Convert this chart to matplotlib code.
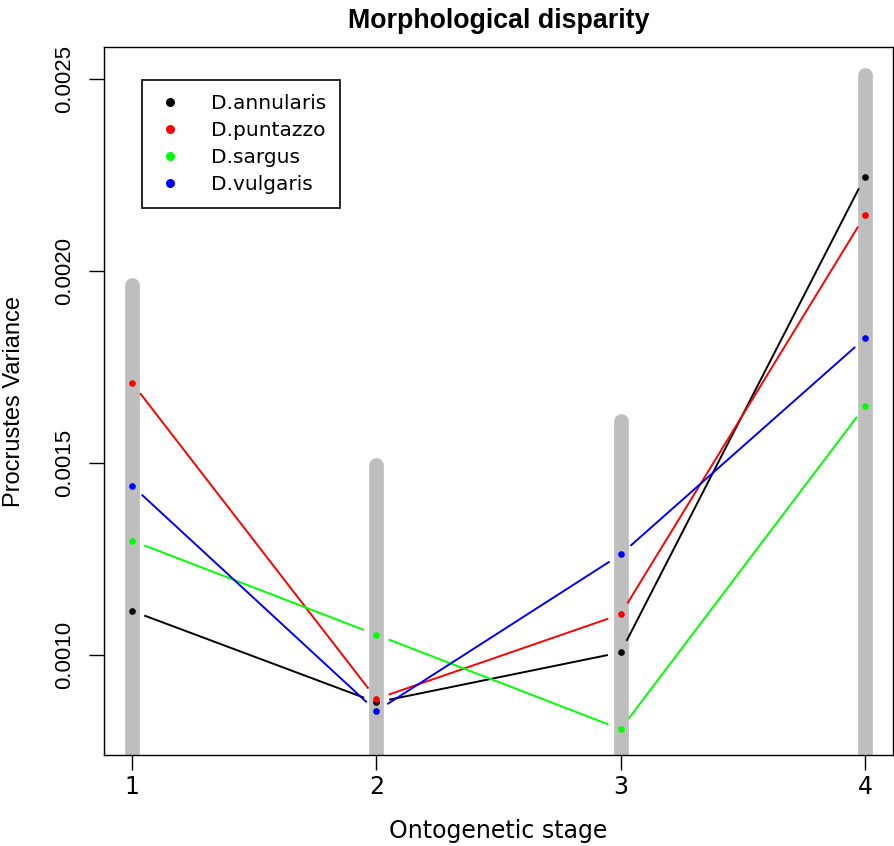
# Morphological disparity per ontogenetic stage
import numpy as np
import matplotlib
matplotlib.use("Agg")
import matplotlib.pyplot as plt
from matplotlib.lines import Line2D

stages = [1, 2, 3, 4]
species = ["D.annularis", "D.puntazzo", "D.sargus", "D.vulgaris"]
colores = ["black", "#FF0000", "#00FF00", "#0000FF"]

annularis = [0.001115, 0.000877, 0.001007, 0.002246]
puntazzo = [0.001709, 0.000886, 0.001106, 0.002145]
sargus = [0.001298, 0.001053, 0.000807, 0.001648]
vulgaris = [0.001441, 0.000854, 0.001262, 0.001825]
valores = [annularis, puntazzo, sargus, vulgaris]

ci_sup = [0.001964, 0.001495, 0.00161, 0.002511]
ci_inf = [0.0004, 0.0004, 0.0004, 0.0004]

yticks = [0.0010, 0.0015, 0.0020, 0.0025]
yticklabels = ["0.0010", "0.0015", "0.0020", "0.0025"]

fig = plt.figure(figsize=(8.95, 8.46), dpi=100)
ax = fig.add_axes([104/895, 1 - 755.3/846, (893 - 104)/895, (755.3 - 47.3)/846])
ax.set_xlim(0.885, 4.115)
ax.set_ylim(0.000739, 0.002583)

# barras grises
for s, lo, hi in zip(stages, ci_inf, ci_sup):
    ax.plot([s, s], [lo, hi], color="#BEBEBE", lw=10.6, solid_capstyle="round", zorder=1)

# lineas con hueco alrededor de cada punto (como type="b" en R)
gap = 14
fig.canvas.draw()
tr = ax.transData
inv = tr.inverted()
for vals, c in zip(valores, colores):
    pts = tr.transform(np.column_stack([stages, vals]))
    for i in range(len(pts) - 1):
        p0, p1 = pts[i], pts[i + 1]
        d = p1 - p0
        L = np.hypot(d[0], d[1])
        if L <= 2 * gap:
            continue
        q0 = p0 + d / L * gap
        q1 = p1 - d / L * gap
        seg = inv.transform(np.array([q0, q1]))
        ax.plot(seg[:, 0], seg[:, 1], color=c, lw=1.4, zorder=2)
    ax.plot(stages, vals, "o", color=c, markersize=4.8, markeredgewidth=0, zorder=3)

ax.set_xticks(stages)
ax.set_xticklabels([str(s) for s in stages], family="DejaVu Sans", fontsize=17)
ax.set_yticks(yticks)
ax.set_yticklabels(yticklabels, rotation=90, va="center", family="Liberation Sans", fontsize=16)
ax.tick_params(axis="both", direction="out", length=10.5, width=1, color="black")
ax.tick_params(axis="x", pad=4)
ax.tick_params(axis="y", pad=10)
for sp in ax.spines.values():
    sp.set_linewidth(1)
    sp.set_color("black")

ax.set_xlabel("Ontogenetic stage", family="DejaVu Sans", fontsize=17, labelpad=14)
ax.set_ylabel("Procrustes Variance", family="Liberation Sans", fontsize=17, labelpad=21)
ax.set_title("Morphological disparity", family="Liberation Sans", fontweight="bold",
             fontsize=19.3, pad=14)

handles = [Line2D([], [], marker="o", linestyle="none", color=c, markersize=6.5,
                  markeredgewidth=0) for c in colores]
leg = ax.legend(handles, species, loc="upper left",
                bbox_to_anchor=((141.7 - 104) / 789, 1 - (80 - 47.3) / 708),
                borderaxespad=0, fancybox=False, framealpha=1, edgecolor="black",
                prop={"family": "DejaVu Sans", "size": 14.5}, handlelength=1.41,
                handletextpad=1.33, borderpad=0.7, labelspacing=0.39)
leg.get_frame().set_linewidth(1.2)

fig.savefig("out.png", dpi=100)
